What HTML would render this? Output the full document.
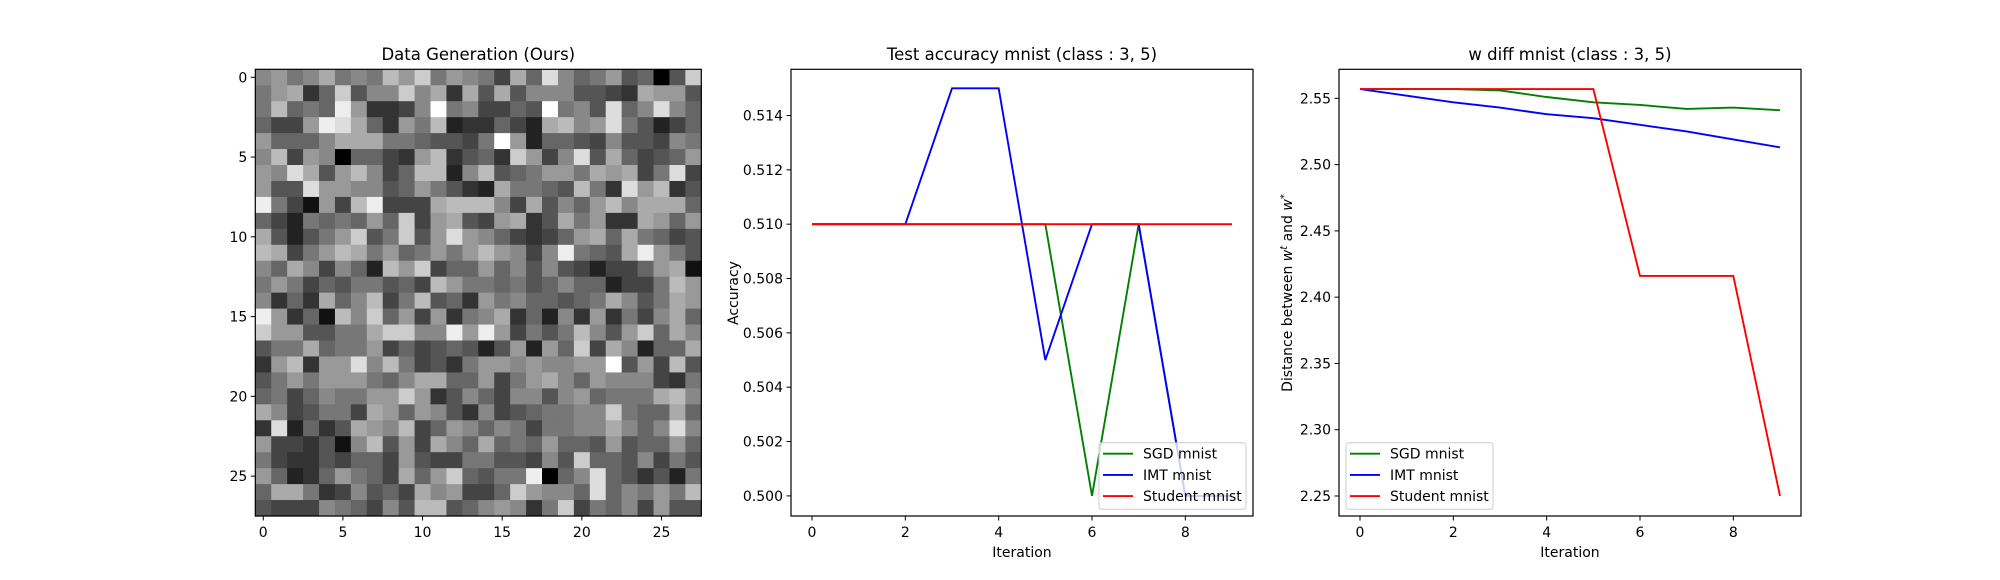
<!DOCTYPE html>
<html><head><meta charset="utf-8"><style>
html,body{margin:0;padding:0;background:#fff;}
svg{display:block;font-family:"DejaVu Sans","Liberation Sans",sans-serif;}
</style></head><body>
<svg id="fig" width="2000" height="580" viewBox="0 0 2000 580" xmlns="http://www.w3.org/2000/svg"></svg>
<script>
// ---- Heatmap data (hex grey levels 0-f), 28 rows x 28 cols ----
const heatRows = [
"8978a787b9c79874a6d86795605c",
"79a36c588c8a3a5a58885543a995",
"7b676e93348f784465f785d68d86",
"6449eda6397b233642ab89d75246",
"96668aaa7765547f926654855487",
"8b498066439b3563c948d5a64569",
"98da59b846bb28b567997a9a47d4",
"955d99885697532a7765b73d9b35",
"e74194be444abbb84a5869b8aaa6",
"642767696c49a549a35a7933a969",
"a52579c57c59d98643469a6a7645",
"ba479ba7967979b9848e765ae975",
"86a84862b9c466968585424469a1",
"79746577564b97767568662447b9",
"8363a68b47b56397866567a857a9",
"e9361b8c6949378a3628393748a6",
"c995577acc88e9e94757b859c6a8",
"577a6779464565259296c4a8266a",
"39b399d8b7453799898899f594b5",
"5797999768aa669479a869888437",
"674687799c935864885896777ab8",
"a845774a96985384567788c766a6",
"3d2635a98b469868747788a868d8",
"9443518b594a86a6769665956696",
"74335466495447755485c6658475",
"962369764a69c6577e068d653527",
"6aa7348564a89446c9886d68797b",
"5444876485bb5689837c47684955"
];
// ---- Accuracy chart data ----
const iterations = [0,1,2,3,4,5,6,7,8,9];
const accSGD = [0.510,0.510,0.510,0.510,0.510,0.510,0.500,0.510,0.500,0.500];
const accIMT = [0.510,0.510,0.510,0.515,0.515,0.505,0.510,0.510,0.500,0.500];
const accStudent = [0.510,0.510,0.510,0.510,0.510,0.510,0.510,0.510,0.510,0.510];
const accYTicks = [0.500,0.502,0.504,0.506,0.508,0.510,0.512,0.514];
const xTicks = [0,2,4,6,8];
// ---- W diff chart data ----
const wSGD = [2.557,2.557,2.557,2.556,2.551,2.547,2.545,2.542,2.543,2.541];
const wIMT = [2.557,2.552,2.547,2.543,2.538,2.535,2.530,2.525,2.519,2.513];
const wStudent = [2.557,2.557,2.557,2.557,2.557,2.557,2.416,2.416,2.416,2.250];
const wYTicks = [2.25,2.30,2.35,2.40,2.45,2.50,2.55];
const heatTicks = [0,5,10,15,20,25];

const NS="http://www.w3.org/2000/svg";
const svg=document.getElementById('fig');
const FS=14;
function el(tag,attrs,parent){const e=document.createElementNS(NS,tag);for(const k in attrs)e.setAttribute(k,attrs[k]);(parent||svg).appendChild(e);return e;}
function txt(x,y,s,size,anchor,parent){const t=el('text',{x:x,y:y,'font-size':size,'text-anchor':anchor||'middle',fill:'#000'},parent);t.textContent=s;return t;}

// ---- Heatmap ----
const hx0=255.3,hx1=701.3,hy0=69.3,hy1=516;
const cw=(hx1-hx0)/28,ch=(hy1-hy0)/28;
const hg=el('g',{});


heatRows.forEach((row,r)=>{for(let c=0;c<28;c++){const v=parseInt(row[c]||'8',16)*17;
 const rc=el('rect',{x:hx0+c*cw,y:hy0+r*ch,width:cw+0.6,height:ch+0.6,fill:`rgb(${v},${v},${v})`},hg);
 
 }});
el('rect',{x:hx0,y:hy0,width:hx1-hx0,height:hy1-hy0,fill:'none',stroke:'#000','stroke-width':1.2});
heatTicks.forEach(t=>{const x=hx0+(t+0.5)*cw,y=hy0+(t+0.5)*ch;
 el('line',{x1:x,y1:hy1,x2:x,y2:hy1+4.5,stroke:'#000'});
 const xl=txt(x,537,String(t),FS);
 el('line',{x1:hx0-4.5,y1:y,x2:hx0,y2:y,stroke:'#000'});
 const yl=txt(hx0-8,y+5,String(t),FS,'end');});
const t1=txt((hx0+hx1)/2,60,'Data Generation (Ours)',16.5);


// ---- Line chart helper ----
function lineChart(o){
 const X=v=>o.x0+(v-o.xmin)/(o.xmax-o.xmin)*(o.x1-o.x0);
 const Y=v=>o.y1-(v-o.ymin)/(o.ymax-o.ymin)*(o.y1-o.y0);
 xTicks.forEach(t=>{el('line',{x1:X(t),y1:o.y1,x2:X(t),y2:o.y1+4.5,stroke:'#000'});
  const l=txt(X(t),537,String(t),FS);});
 o.yt.forEach(t=>{el('line',{x1:o.x0-4.5,y1:Y(t),x2:o.x0,y2:Y(t),stroke:'#000'});
  const l=txt(o.x0-8,Y(t)+5,t.toFixed(o.dec),FS,'end');});
 o.series.forEach(s=>{const p=el('polyline',{points:iterations.map((it,i)=>X(it)+','+Y(s.v[i])).join(' '),fill:'none',stroke:s.c,'stroke-width':1.9});
  });
 el('rect',{x:o.x0,y:o.y0,width:o.x1-o.x0,height:o.y1-o.y0,fill:'none',stroke:'#000','stroke-width':1.2});
 const tt=txt((o.x0+o.x1)/2,60,o.title,16.5);
 const xl=txt((o.x0+o.x1)/2,557,'Iteration',FS);
 const lg=el('g',{});
 el('rect',{x:o.lx,y:442.7,width:147,height:66.5,rx:2.5,fill:'#fff','fill-opacity':0.8,stroke:'#ccc'},lg);
 o.series.forEach((s,i)=>{const yy=453.7+i*21.2;el('line',{x1:o.lx+4,y1:yy,x2:o.lx+34,y2:yy,stroke:s.c,'stroke-width':1.9},lg);
  const e=txt(o.lx+44,yy+5,s.label,FS,'start',lg);});
 return {X,Y};
}
lineChart({x0:791,x1:1253,y0:69.3,y1:516,xmin:-0.45,xmax:9.45,ymin:0.49926,ymax:0.5157,yt:accYTicks,dec:3,
 title:'Test accuracy mnist (class : 3, 5)',prefix:'accuracy',lx:1099,
 series:[{v:accSGD,c:'#008000',label:'SGD mnist',name:'sgd-accuracy-line'},{v:accIMT,c:'#0000ff',label:'IMT mnist',name:'imt-accuracy-line'},{v:accStudent,c:'#ff0000',label:'Student mnist',name:'student-accuracy-line'}]});
lineChart({x0:1339,x1:1801,y0:69.3,y1:516,xmin:-0.45,xmax:9.45,ymin:2.2349,ymax:2.5719,yt:wYTicks,dec:2,
 title:'w diff mnist (class : 3, 5)',prefix:'wdiff',lx:1346,
 series:[{v:wSGD,c:'#008000',label:'SGD mnist',name:'sgd-wdiff-line'},{v:wIMT,c:'#0000ff',label:'IMT mnist',name:'imt-wdiff-line'},{v:wStudent,c:'#ff0000',label:'Student mnist',name:'student-wdiff-line'}]});
</script>
<div style="position:absolute;left:0;top:0;width:2000px;height:580px;pointer-events:none">
<svg width="2000" height="580" style="position:absolute;left:0;top:0">
<text x="738" y="293" font-size="14" text-anchor="middle" transform="rotate(-90 738 293)" font-family="DejaVu Sans,sans-serif">Accuracy</text>
<text x="1292" y="293" font-size="14" text-anchor="middle" transform="rotate(-90 1292 293)" font-family="DejaVu Sans,sans-serif">Distance between <tspan font-style="italic">w</tspan><tspan font-size="10" dy="-5" font-style="italic">t</tspan><tspan dy="5"> and </tspan><tspan font-style="italic">w</tspan><tspan font-size="10" dy="-5">*</tspan></text>
</svg></div>
</body></html>
